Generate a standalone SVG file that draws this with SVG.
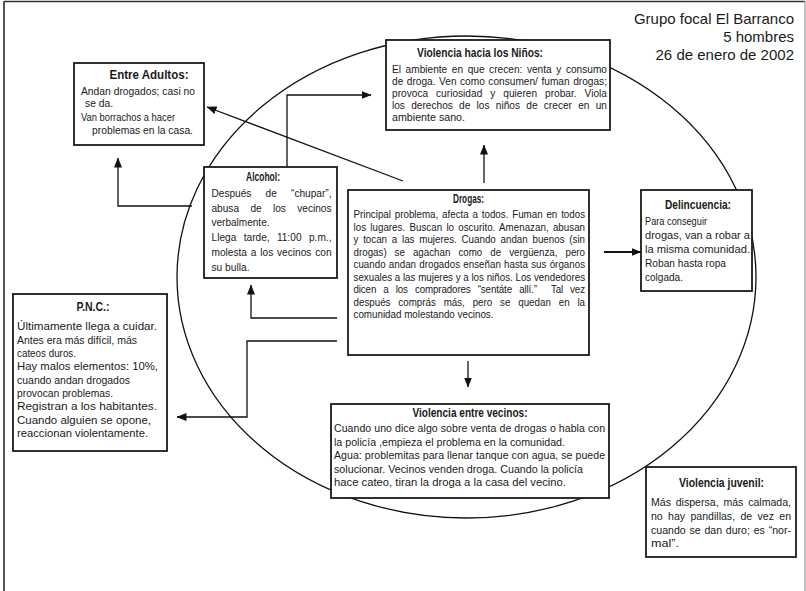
<svg xmlns="http://www.w3.org/2000/svg" width="806" height="591" viewBox="0 0 806 591">
<defs>
<style>
.box{fill:#fff;stroke:#1a1a1a;stroke-width:1.8}
.t{font-family:'Liberation Sans',Arial,sans-serif;font-size:11.5px;fill:#1a1a1a}
.ti{font-weight:bold;font-size:12px;text-anchor:middle}
.hd{font-family:'Liberation Sans','Open Sans',sans-serif;font-size:15px;fill:#1a1a1a;text-anchor:end}
.cn{fill:none;stroke:#111;stroke-width:1.3;marker-end:url(#ah)}
</style>
<marker id="ah" markerUnits="userSpaceOnUse" markerWidth="10" markerHeight="8" refX="9.5" refY="4" orient="auto">
<path d="M0,0 L10,4 L0,8 z" fill="#111"/>
</marker>
</defs>
<rect width="806" height="591" fill="#fff"/>
<g id="frame">
<line x1="4" y1="1.5" x2="805" y2="1.5" stroke="#333" stroke-width="1.5"/>
<line x1="4" y1="1" x2="4" y2="591" stroke="#555" stroke-width="2"/>
<line x1="805" y1="1" x2="805" y2="591" stroke="#aaa" stroke-width="1.5"/>
</g>
<g id="header">
<text class="hd" x="794" y="24">Grupo focal El Barranco</text>
<text class="hd" x="794" y="42">5 hombres</text>
<text class="hd" x="794" y="60">26 de enero de 2002</text>
</g>
<ellipse id="circle" cx="466.5" cy="277" rx="289.5" ry="241" fill="none" stroke="#111" stroke-width="1.3"/>
<g id="connectors">
<line class="cn" x1="403" y1="181" x2="207" y2="107"/>
<polyline class="cn" points="192,206 118,206 118,158"/>
<polyline class="cn" points="287,167 287,95 371,95"/>
<line class="cn" x1="484" y1="183" x2="484" y2="145"/>
<line class="cn" x1="604" y1="252" x2="641" y2="252" style="stroke-width:2"/>
<polyline class="cn" points="337,318 251,318 251,285"/>
<polyline class="cn" points="337,341 247,341 247,417 177,417"/>
<line class="cn" x1="468" y1="361" x2="468" y2="387"/>
</g>
<g id="adultos">
<rect class="box" x="74" y="63" width="130" height="82"/>
<text class="t ti" x="149" y="79" textLength="79" lengthAdjust="spacingAndGlyphs">Entre Adultos:</text>
<text class="t" x="81" y="94.5" textLength="114" lengthAdjust="spacingAndGlyphs">Andan drogados; casi no</text>
<text class="t" x="85" y="107" textLength="28" lengthAdjust="spacingAndGlyphs">se da.</text>
<text class="t" x="81" y="120.5" textLength="94" lengthAdjust="spacingAndGlyphs">Van borrachos a hacer</text>
<text class="t" x="92" y="134" textLength="101" lengthAdjust="spacingAndGlyphs">problemas en la casa.</text>
</g>
<g id="ninos">
<rect class="box" x="386" y="40" width="224" height="90"/>
<text class="t ti" x="480" y="57" textLength="126" lengthAdjust="spacingAndGlyphs">Violencia hacia los Niños:</text>
<text class="t" transform="translate(392 72.5) scale(.88 1)" style="word-spacing:2px" textLength="244.3" lengthAdjust="spacing">El ambiente en que crecen: venta y consumo</text>
<text class="t" transform="translate(392 84.7) scale(.88 1)" style="word-spacing:0.8px" textLength="244.3" lengthAdjust="spacing">de droga. Ven como consumen/ fuman drogas;</text>
<text class="t" transform="translate(392 96.9) scale(.88 1)" style="word-spacing:5.8px" textLength="244.3" lengthAdjust="spacing">provoca curiosidad y quieren probar. Viola</text>
<text class="t" transform="translate(392 109.1) scale(.88 1)" style="word-spacing:3.9px" textLength="244.3" lengthAdjust="spacing">los derechos de los niños de crecer en un</text>
<text class="t" x="392" y="121.3" textLength="73" lengthAdjust="spacingAndGlyphs">ambiente sano.</text>
</g>
<g id="alcohol">
<rect class="box" x="204" y="167" width="133" height="111"/>
<text class="t ti" x="263" y="181" textLength="34" lengthAdjust="spacingAndGlyphs">Alcohol:</text>
<text class="t" transform="translate(211.5 197) scale(.88 1)" style="word-spacing:12.9px" textLength="136.4" lengthAdjust="spacing">Después de “chupar”,</text>
<text class="t" transform="translate(211.5 211.7) scale(.88 1)" style="word-spacing:9.7px" textLength="136.4" lengthAdjust="spacing">abusa de los vecinos</text>
<text class="t" x="211.5" y="226.4" textLength="58" lengthAdjust="spacingAndGlyphs">verbalmente.</text>
<text class="t" transform="translate(211.5 241) scale(.88 1)" style="word-spacing:5px" textLength="136.4" lengthAdjust="spacing">Llega tarde, 11:00 p.m.,</text>
<text class="t" transform="translate(211.5 255.8) scale(.88 1)" style="word-spacing:1.2px" textLength="136.4" lengthAdjust="spacing">molesta a los vecinos con</text>
<text class="t" x="211.5" y="270.5" textLength="38" lengthAdjust="spacingAndGlyphs">su bulla.</text>
</g>
<g id="drogas">
<rect class="box" x="348" y="190" width="241" height="165"/>
<text class="t ti" x="468.5" y="203" textLength="31" lengthAdjust="spacingAndGlyphs">Drogas:</text>
<text class="t" transform="translate(353.5 218) scale(.85 1)" style="word-spacing:1.3px" textLength="272.4" lengthAdjust="spacing">Principal problema, afecta a todos. Fuman en todos</text>
<text class="t" transform="translate(353.5 230.5) scale(.85 1)" style="word-spacing:1.8px" textLength="272.4" lengthAdjust="spacing">los lugares. Buscan lo oscurito. Amenazan, abusan</text>
<text class="t" transform="translate(353.5 243) scale(.85 1)" style="word-spacing:2.4px" textLength="272.4" lengthAdjust="spacing">y tocan a las mujeres. Cuando andan buenos (sin</text>
<text class="t" transform="translate(353.5 255.5) scale(.85 1)" style="word-spacing:6.2px" textLength="272.4" lengthAdjust="spacing">drogas) se agachan como de vergüenza, pero</text>
<text class="t" transform="translate(353.5 268) scale(.85 1)" style="word-spacing:0.6px" textLength="272.4" lengthAdjust="spacing">cuando andan drogados enseñan hasta sus órganos</text>
<text class="t" transform="translate(353.5 280.5) scale(.85 1)" textLength="272.4" lengthAdjust="spacing">sexuales a las mujeres y a los niños. Los vendedores</text>
<text class="t" transform="translate(353.5 293) scale(.85 1)" xml:space="preserve" style="word-spacing:5.3px" textLength="272.4" lengthAdjust="spacing">dicen a los compradores “sentáte allí.”  Tal vez</text>
<text class="t" transform="translate(353.5 305.5) scale(.85 1)" style="word-spacing:6px" textLength="272.4" lengthAdjust="spacing">después comprás más, pero se quedan en la</text>
<text class="t" x="353.5" y="318" textLength="140" lengthAdjust="spacingAndGlyphs">comunidad molestando vecinos.</text>
</g>
<g id="delincuencia">
<rect class="box" x="641" y="190" width="111" height="101"/>
<text class="t ti" x="698" y="209" textLength="66" lengthAdjust="spacingAndGlyphs">Delincuencia:</text>
<text class="t" x="645" y="225" textLength="62" lengthAdjust="spacingAndGlyphs">Para conseguir</text>
<text class="t" x="645" y="239" textLength="105" lengthAdjust="spacingAndGlyphs">drogas, van a robar a</text>
<text class="t" x="645" y="253" textLength="105" lengthAdjust="spacingAndGlyphs">la misma comunidad.</text>
<text class="t" x="645" y="267" textLength="81" lengthAdjust="spacingAndGlyphs">Roban hasta ropa</text>
<text class="t" x="645" y="281" textLength="38" lengthAdjust="spacingAndGlyphs">colgada.</text>
</g>
<g id="pnc">
<rect class="box" x="13" y="294" width="154" height="157"/>
<text class="t ti" x="93" y="311" textLength="33" lengthAdjust="spacingAndGlyphs">P.N.C.:</text>
<text class="t" x="17" y="330" textLength="140" lengthAdjust="spacingAndGlyphs">Últimamente llega a cuidar.</text>
<text class="t" x="17" y="343.5" textLength="120" lengthAdjust="spacingAndGlyphs">Antes era más difícil, más</text>
<text class="t" x="17" y="356.5" textLength="59" lengthAdjust="spacingAndGlyphs">cateos duros.</text>
<text class="t" x="17" y="370" textLength="141" lengthAdjust="spacingAndGlyphs">Hay malos elementos: 10%,</text>
<text class="t" x="17" y="383.5" textLength="113" lengthAdjust="spacingAndGlyphs">cuando andan drogados</text>
<text class="t" x="17" y="396.5" textLength="96" lengthAdjust="spacingAndGlyphs">provocan problemas.</text>
<text class="t" x="17" y="410" textLength="140" lengthAdjust="spacingAndGlyphs">Registran a los habitantes.</text>
<text class="t" x="17" y="423.5" textLength="134" lengthAdjust="spacingAndGlyphs">Cuando alguien se opone,</text>
<text class="t" x="17" y="436.5" textLength="131" lengthAdjust="spacingAndGlyphs">reaccionan violentamente.</text>
</g>
<g id="vecinos">
<rect class="box" x="331" y="404" width="278" height="94"/>
<text class="t ti" x="470" y="417" textLength="115" lengthAdjust="spacingAndGlyphs">Violencia entre vecinos:</text>
<text class="t" transform="translate(334 432) scale(.92 1)" textLength="294.6" lengthAdjust="spacing">Cuando uno dice algo sobre venta de drogas o habla con</text>
<text class="t" x="334" y="445.5" textLength="231" lengthAdjust="spacingAndGlyphs">la policía ,empieza el problema en la comunidad.</text>
<text class="t" transform="translate(334 459) scale(.92 1)" textLength="294.6" lengthAdjust="spacing">Agua: problemitas para llenar tanque con agua, se puede</text>
<text class="t" x="334" y="472.5" textLength="249" lengthAdjust="spacingAndGlyphs">solucionar. Vecinos venden droga. Cuando la policía</text>
<text class="t" x="334" y="486" textLength="232" lengthAdjust="spacingAndGlyphs">hace cateo, tiran la droga a la casa del vecino.</text>
</g>
<g id="juvenil">
<rect class="box" x="646" y="467" width="150" height="90"/>
<text class="t ti" x="721.5" y="487" textLength="85" lengthAdjust="spacingAndGlyphs">Violencia juvenil:</text>
<text class="t" transform="translate(651 505.5) scale(.92 1)" style="word-spacing:2px" textLength="152.2" lengthAdjust="spacing">Más dispersa, más calmada,</text>
<text class="t" transform="translate(651 520) scale(.92 1)" style="word-spacing:2.6px" textLength="152.2" lengthAdjust="spacing">no hay pandillas, de vez en</text>
<text class="t" transform="translate(651 534) scale(.92 1)" style="word-spacing:0.9px" textLength="152.2" lengthAdjust="spacing">cuando se dan duro; es “nor-</text>
<text class="t" x="651" y="546.5" textLength="28" lengthAdjust="spacingAndGlyphs">mal”.</text>
</g>
</svg>
